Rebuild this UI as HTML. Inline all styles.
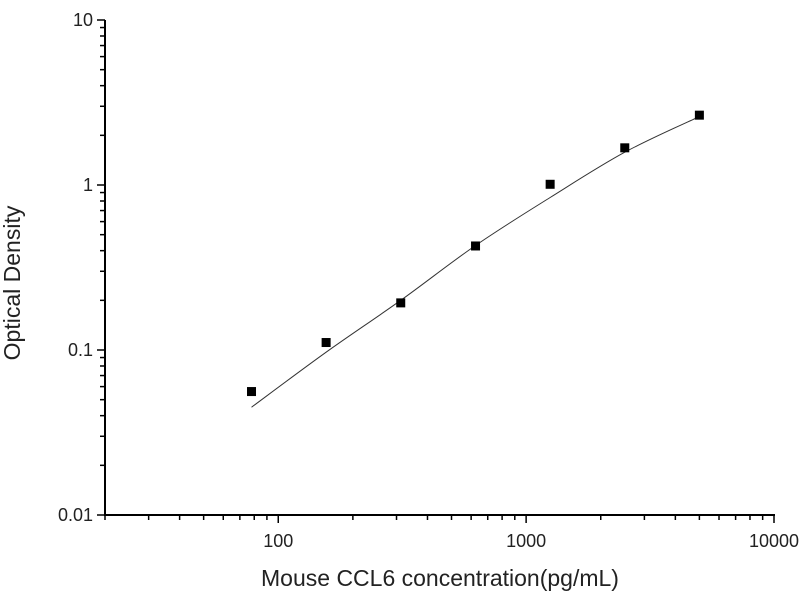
<!DOCTYPE html>
<html><head><meta charset="utf-8"><style>
html,body{margin:0;padding:0;background:#fff;}
svg{display:block;font-family:"Liberation Sans",Arial,sans-serif;}
</style></head><body>
<svg id="chart" width="800" height="600" viewBox="0 0 800 600" xmlns="http://www.w3.org/2000/svg"></svg>
<script>
const concentrations = [78, 156, 312, 625, 1250, 2500, 5000];
const odValues = [0.056, 0.111, 0.193, 0.427, 1.01, 1.68, 2.65];
const curveX = [78, 156, 312, 625, 1250, 2500, 5000];
const curveY = [0.045, 0.097, 0.2, 0.43, 0.84, 1.58, 2.6];
const xTicks = [100, 1000, 10000];
const xTickLabels = ["100", "1000", "10000"];
const yTicks = [0.01, 0.1, 1, 10];
const yTickLabels = ["0.01", "0.1", "1", "10"];

const svg = document.getElementById('chart');
const NS = 'http://www.w3.org/2000/svg';
const X0 = 105, X1 = 774, Y0 = 515, Y1 = 20;
const xMinL = Math.log10(20), xMaxL = 4, yMinL = -2, yMaxL = 1;
function xs(v){return X0 + (Math.log10(v)-xMinL)/(xMaxL-xMinL)*(X1-X0);}
function ys(v){return Y0 - (Math.log10(v)-yMinL)/(yMaxL-yMinL)*(Y0-Y1);}
function mk(tag, attrs){const e=document.createElementNS(NS,tag);for(const k in attrs)e.setAttribute(k,attrs[k]);svg.appendChild(e);return e;}

let ax = mk('line',{x1:X0,y1:Y0,x2:X1+1,y2:Y0,stroke:'#000','stroke-width':2});


let ay = mk('line',{x1:X0,y1:Y0+1,x2:X0,y2:Y1,stroke:'#000','stroke-width':2});



for(let d=1; d<=3; d++){
  for(let m=1; m<=9; m++){
    const v = m*Math.pow(10,d);
    if(v<20 || v>10000) continue;
    const major = (m===1);
    const t = mk('line',{x1:xs(v),y1:Y0,x2:xs(v),y2:Y0+(major?8:5),stroke:'#000','stroke-width':1.5});
    
    
  }
}
{const t=mk('line',{x1:xs(10000),y1:Y0,x2:xs(10000),y2:Y0+8,stroke:'#000','stroke-width':1.5});

}
xTicks.forEach((v,i)=>{
  const t=mk('text',{x:xs(v),y:Y0+32,'text-anchor':'middle','font-size':18,fill:'#222'});
  t.textContent=xTickLabels[i];
  
  
});
for(let d=-2; d<=0; d++){
  for(let m=1; m<=9; m++){
    const v=m*Math.pow(10,d);
    const major=(m===1);
    const t=mk('line',{x1:X0,y1:ys(v),x2:X0-(major?8:5),y2:ys(v),stroke:'#000','stroke-width':1.5});
    
    
  }
}
{const t=mk('line',{x1:X0,y1:ys(10),x2:X0-8,y2:ys(10),stroke:'#000','stroke-width':1.5});

}
yTicks.forEach((v,i)=>{
  const t=mk('text',{x:X0-12,y:ys(v)+6,'text-anchor':'end','font-size':18,fill:'#222'});
  t.textContent=yTickLabels[i];
  
  
});

const px=curveX.map(xs), py=curveY.map(ys);
let d='M'+px[0]+','+py[0];
for(let i=0;i<px.length-1;i++){
  const p0=i>0?i-1:i, p3=i+2<px.length?i+2:i+1;
  const c1x=px[i]+(px[i+1]-px[p0])/6, c1y=py[i]+(py[i+1]-py[p0])/6;
  const c2x=px[i+1]-(px[p3]-px[i])/6, c2y=py[i+1]-(py[p3]-py[i])/6;
  d+=' C'+c1x+','+c1y+' '+c2x+','+c2y+' '+px[i+1]+','+py[i+1];
}
const c=mk('path',{d:d,fill:'none',stroke:'#333','stroke-width':1});



concentrations.forEach((v,i)=>{
  const r=mk('rect',{x:xs(v)-4.5,y:ys(odValues[i])-4.5,width:9,height:9,fill:'#000'});
  
  
});

const xt=mk('text',{x:440,y:586,'text-anchor':'middle','font-size':23,fill:'#222'});
xt.textContent='Mouse CCL6 concentration(pg/mL)';


const yt=mk('text',{x:0,y:0,'text-anchor':'middle','font-size':23,fill:'#222',transform:'translate(20,283) rotate(-90)'});
yt.textContent='Optical Density';


</script>
</body></html>
